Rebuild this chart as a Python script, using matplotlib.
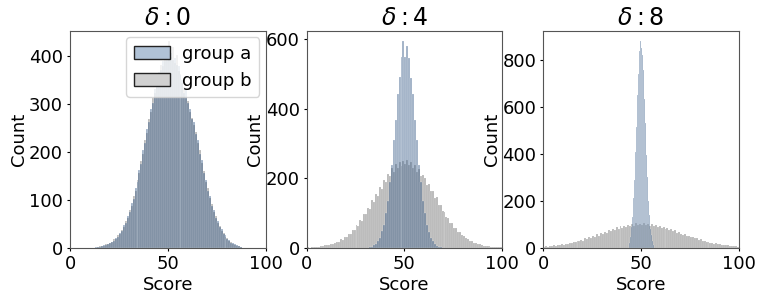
import numpy as np
import matplotlib.pyplot as plt
from matplotlib.patches import Patch

# counts per score bin
deltas = [0, 4, 8]
groups = ["group a", "group b"]

# delta 0: both groups, 1-point bins starting at score 13
d0_start = 13
d0_a = [1, 2, 2, 4, 5, 6, 7, 11, 13, 15, 21, 23, 31, 35, 47, 52, 67, 75, 93, 102,
        124, 136, 162, 174, 203, 218, 247, 261, 290, 302, 331, 340, 366, 370, 389, 388, 402, 396, 405, 392,
        395, 380, 378, 359, 349, 322, 330, 302, 289, 268, 262, 238, 225, 196, 182, 155, 142, 118, 108, 88,
        79, 63, 56, 43, 39, 28, 26, 18, 16, 11, 10, 7, 5, 3, 2]
d0_b = [0, 2, 3, 3, 4, 7, 8, 9, 12, 18, 19, 26, 29, 38, 44, 56, 63, 79, 88, 108,
        118, 141, 155, 181, 196, 224, 240, 268, 283, 311, 322, 349, 356, 381, 378, 412, 389, 430, 398, 418,
        384, 401, 368, 362, 343, 334, 311, 305, 282, 271, 255, 242, 218, 203, 176, 160, 137, 124, 103, 92,
        75, 66, 52, 46, 36, 31, 23, 20, 14, 12, 8, 6, 4, 3, 1]

# delta 4: group a from score 32, group b over 0-100
d4_a_start = 32
d4_a = [2, 3, 7, 10, 19, 27, 47, 65, 101, 133, 190, 238, 311, 366, 441, 490, 548, 593, 548, 580,
        545, 488, 441, 368, 310, 238, 190, 135, 99, 66, 46, 28, 19, 10, 6, 3, 1]
d4_b_start = 0
d4_b = [1, 0, 1, 2, 1, 3, 3, 4, 4, 7, 8, 7, 11, 12, 13, 18, 17, 24, 23, 31,
        30, 40, 41, 52, 50, 66, 63, 81, 78, 97, 96, 114, 112, 137, 131, 155, 150, 176, 170, 196,
        189, 212, 205, 228, 218, 240, 229, 246, 236, 250, 241, 252, 238, 247, 229, 238, 219, 226, 206, 210,
        200, 181, 184, 162, 164, 143, 145, 123, 124, 105, 104, 88, 87, 72, 70, 58, 57, 46, 45, 36,
        34, 27, 26, 20, 20, 15, 14, 11, 10, 8, 6, 6, 4, 4, 3, 2, 2, 1, 1, 1]

# delta 8: group a in half-point bins from score 44, group b over 0-100
d8_a_start = 44
d8_a = [22, 48, 90, 130, 212, 288, 410, 515, 650, 742, 838, 880, 852, 822, 758, 632, 530, 395, 302, 200,
        140, 82, 55, 27, 14]
d8_b_start = 0
d8_b = [4, 6, 5, 8, 7, 10, 9, 12, 11, 15, 14, 18, 16, 21, 19, 25, 23, 29, 27, 34,
        31, 40, 36, 45, 42, 51, 47, 57, 52, 63, 58, 68, 64, 75, 70, 81, 74, 88, 80, 92,
        85, 95, 89, 99, 92, 103, 94, 105, 97, 101, 96, 104, 98, 101, 93, 100, 92, 97, 90, 94,
        86, 90, 80, 85, 76, 80, 71, 74, 65, 68, 60, 56, 58, 50, 52, 45, 47, 40, 41, 35,
        36, 30, 31, 25, 26, 21, 22, 18, 19, 15, 16, 12, 13, 10, 11, 8, 9, 6, 7, 5]

panels = [
    ((d0_a, d0_start, 1.0), (d0_b, d0_start, 1.0)),
    ((d4_a, d4_a_start, 1.0), (d4_b, d4_b_start, 1.0)),
    ((d8_a, d8_a_start, 0.5), (d8_b, d8_b_start, 1.0)),
]

col_a = "#0c396e"
col_b = "#4a4a4a"
alpha = 0.4

plt.rcParams.update({
    "font.size": 13,
    "xtick.major.size": 2.5,
    "ytick.major.size": 2.5,
    "xtick.major.pad": 2.5,
    "ytick.major.pad": 2.5,
    "axes.labelpad": 2,
    "axes.edgecolor": "#555555",
})

fig, axes = plt.subplots(1, 3, figsize=(7.57, 2.95), dpi=100)
fig.subplots_adjust(left=0.0925, right=0.976, bottom=0.16, top=0.895, wspace=0.21)


def draw(ax, counts, start, width, color):
    edges = start + width * np.arange(len(counts) + 1)
    ax.hist(edges[:-1], bins=edges, weights=counts, color=color, alpha=alpha,
            edgecolor="white", linewidth=0.3)


for ax, delta, (a, b) in zip(axes, deltas, panels):
    draw(ax, *b, col_b)
    draw(ax, *a, col_a)
    ax.set_xlim(0, 100)
    ax.set_xticks([0, 50, 100])
    ax.set_xlabel("Score")
    ax.set_ylabel("Count", labelpad=1)
    ax.set_title(r"$\delta: %d$" % delta, fontsize=17, pad=4)

handles = [Patch(facecolor="#b0c2d6", edgecolor="#222222"),
           Patch(facecolor="#d0d0d0", edgecolor="#222222")]
axes[0].legend(handles, groups, loc="upper right", borderaxespad=0.35,
               handletextpad=0.7)

plt.savefig("out.png")
